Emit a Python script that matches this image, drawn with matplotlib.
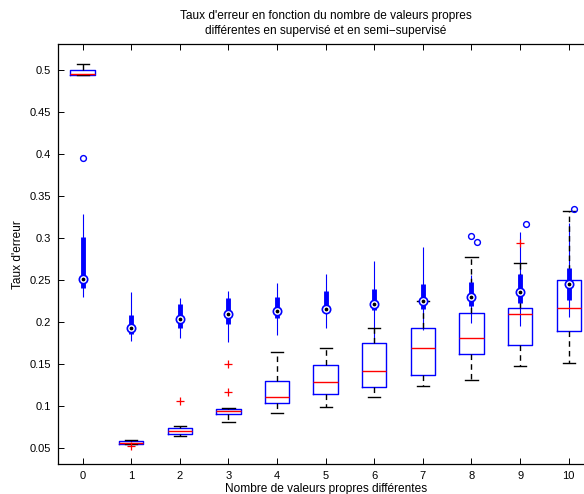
import matplotlib
matplotlib.use("Agg")
import matplotlib.pyplot as plt

plt.rcParams['font.family'] = ['Liberation Sans', 'DejaVu Sans']
plt.rcParams['font.size'] = 8

# Number of distinct eigenvalues
groups = [0, 1, 2, 3, 4, 5, 6, 7, 8, 9, 10]

# Supervised: classic boxplots
sup_med = [0.4958, 0.0560, 0.0695, 0.0933, 0.1107, 0.1279, 0.1410, 0.1683, 0.1806, 0.2088, 0.2167]
sup_q1 = [0.4945, 0.0544, 0.0663, 0.0897, 0.1032, 0.1139, 0.1223, 0.1362, 0.1619, 0.1726, 0.1893]
sup_q3 = [0.5005, 0.0580, 0.0731, 0.0961, 0.1298, 0.1485, 0.1750, 0.1921, 0.2103, 0.2163, 0.2493]
sup_lo = [0.4940, 0.0544, 0.0639, 0.0810, 0.0917, 0.0985, 0.1100, 0.1235, 0.1306, 0.1469, 0.1505]
sup_hi = [0.5076, 0.0595, 0.0758, 0.0976, 0.1639, 0.1690, 0.1929, 0.2250, 0.2767, 0.2702, 0.3321]
sup_out = [[], [0.0524], [0.1056], [0.1167, 0.1493], [], [], [], [], [], [0.2937], []]

# Semi-supervised: compact boxplots
semi_med = [0.2505, 0.1929, 0.2029, 0.2088, 0.2127, 0.2148, 0.2207, 0.2250, 0.2298, 0.2354, 0.2449]
semi_q1 = [0.2398, 0.1860, 0.1921, 0.1969, 0.2040, 0.2120, 0.2140, 0.2148, 0.2187, 0.2219, 0.2258]
semi_q3 = [0.3005, 0.2080, 0.2207, 0.2278, 0.2298, 0.2362, 0.2389, 0.2445, 0.2476, 0.2564, 0.2643]
semi_lo = [0.2298, 0.1770, 0.1802, 0.1755, 0.1842, 0.1929, 0.1750, 0.1900, 0.1980, 0.1950, 0.2060]
semi_hi = [0.3290, 0.2357, 0.2286, 0.2365, 0.2457, 0.2564, 0.2723, 0.2893, 0.2556, 0.3064, 0.3180]
semi_out = [[0.3950], [], [], [], [], [], [], [], [0.3024, 0.2949], [0.3171], [0.3342]]
semi_out_jitter = [[0.0], [], [], [], [], [], [], [], [-0.02, 0.12], [0.12], [0.11]]

yticks = [0.05, 0.1, 0.15, 0.2, 0.25, 0.3, 0.35, 0.4, 0.45, 0.5]
ytick_labels = ['0.05', '0.1', '0.15', '0.2', '0.25', '0.3', '0.35', '0.4', '0.45', '0.5']

fig = plt.figure(figsize=(5.84, 4.94), dpi=100)
ax = fig.add_axes([58.3 / 584, 29.7 / 494, (593 - 58.3) / 584, (464.3 - 44) / 494])

# thin whiskers of the compact boxplots
ax.vlines(groups, semi_lo, semi_hi, color='blue', lw=0.8, zorder=2)

stats = []
for i in range(len(groups)):
    stats.append(dict(med=sup_med[i], q1=sup_q1[i], q3=sup_q3[i],
                      whislo=sup_lo[i], whishi=sup_hi[i], fliers=sup_out[i]))

ax.bxp(stats, positions=groups, widths=0.5, capwidths=0.25, showfliers=True,
       boxprops=dict(color='blue', lw=1.0),
       medianprops=dict(color='red', lw=1.0),
       whiskerprops=dict(color='black', lw=1.0, linestyle=(0, (4, 3))),
       capprops=dict(color='black', lw=1.0),
       flierprops=dict(marker='+', markeredgecolor='red', markersize=6,
                       markeredgewidth=0.9, linestyle='none'),
       manage_ticks=False, zorder=3)

# thick interquartile bars, median circles and outliers of the compact boxplots
ax.vlines(groups, semi_q1, semi_q3, color='blue', lw=3.5, zorder=4)
ax.plot(groups, semi_med, linestyle='none', marker='o', markersize=6.0,
        markerfacecolor='white', markeredgecolor='blue', markeredgewidth=1.2, zorder=5)
ax.plot(groups, semi_med, linestyle='none', marker='o', markersize=1.7,
        markerfacecolor='black', markeredgecolor='black', zorder=6)
for g, vals, jit in zip(groups, semi_out, semi_out_jitter):
    if vals:
        ax.plot([g + j for j in jit], vals, linestyle='none', marker='o', markersize=4.2,
                markerfacecolor='none', markeredgecolor='blue', markeredgewidth=1.0, zorder=5)

ax.set_xlim(-0.5, 10.5)
ax.set_ylim(0.0302, 0.531)
ax.set_xticks(groups)
ax.set_xticklabels([str(g) for g in groups])
ax.set_yticks(yticks)
ax.set_yticklabels(ytick_labels)
ax.tick_params(direction='in', length=4, width=0.7, top=True, right=True, pad=5,
               labelsize=8)
for sp in ax.spines.values():
    sp.set_linewidth(0.9)

ax.set_title("Taux d'erreur en fonction du nombre de valeurs propres\n"
             "différentes en supervisé et en semi\u2212supervisé",
             fontsize=8.6, pad=7, linespacing=1.4)
ax.set_xlabel("Nombre de valeurs propres différentes", fontsize=8.6, labelpad=1)
ax.set_ylabel("Taux d'erreur", fontsize=8.6, labelpad=4)

fig.savefig("out.png", dpi=100)
